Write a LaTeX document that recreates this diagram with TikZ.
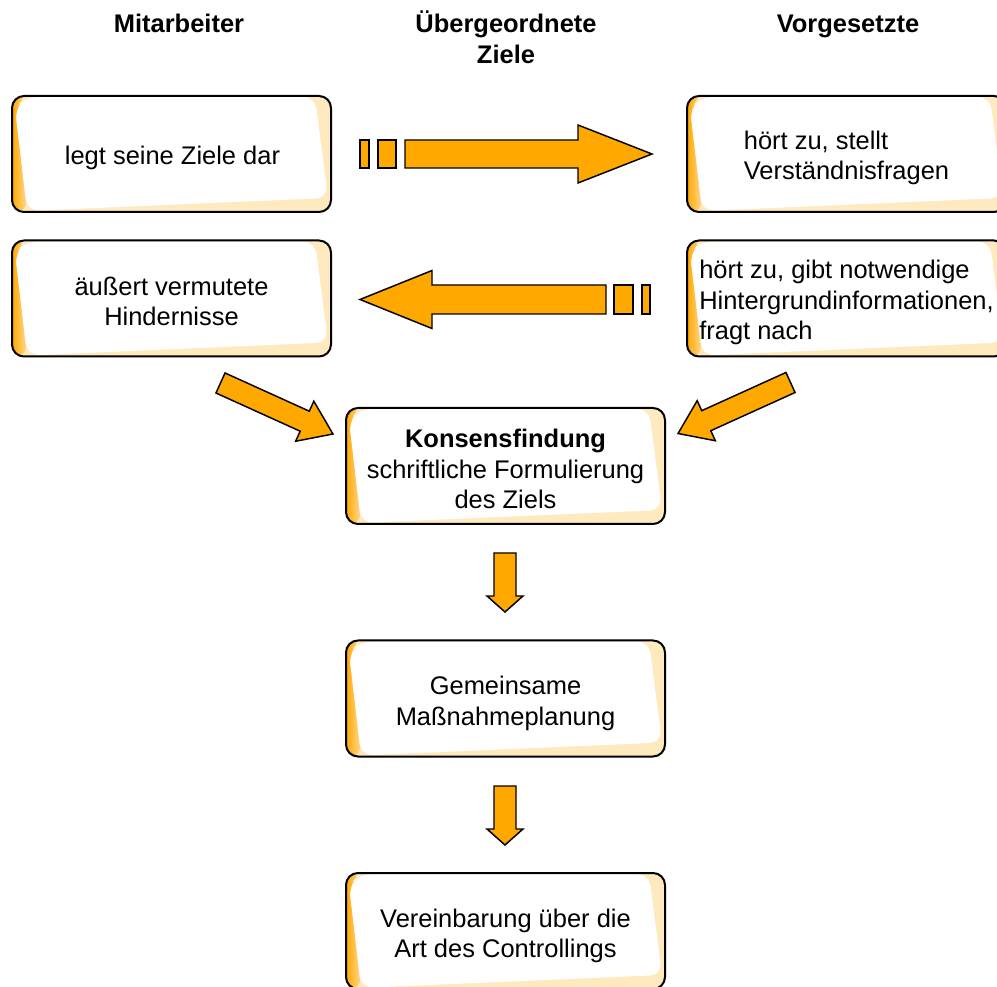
\documentclass[tikz,border=0pt]{standalone}
\usepackage{fontspec}
\setmainfont{Liberation Sans}
\usetikzlibrary{calc}
\definecolor{zorange}{RGB}{255,168,0}
\newcommand\zfont{\fontsize{19.1pt}{22.9pt}\selectfont}
\newcommand\zblock[7]{%
  \begin{scope}[shift={(#1,#2)}, rotate=#3]
    \draw[zarrow] (0,-#6) -- (#4-#5,-#6) -- (#4-#5,-#7) -- (#4,0) -- (#4-#5,#7) -- (#4-#5,#6) -- (0,#6) -- cycle;
  \end{scope}}
\tikzset{
  zbox/.style={draw=black, line width=1.5pt, rounded corners=9pt, fill=white,
    minimum width=319*0.75pt, minimum height=116*0.75pt, inner sep=0pt,
    path picture={
      \coordinate (nw) at (path picture bounding box.north west);
      \coordinate (se) at (path picture bounding box.south east);
      \fill[zorange!25] (nw) rectangle (se);
      \fill[left color=zorange, right color=zorange!40]
        (nw) -- ($(nw)+(16,0)$) -- ($(nw)+(3,12)$) -- ($(nw|-se)+(16,0)$) -- (nw|-se) -- cycle;
      \fill[white] ($(nw)+(3,12)$) -- ($(nw)+(14,1)$) -- ($(se|-nw)+(-16,1)$)
        -- ($(se)+(-3,-14)$) -- ($(nw|-se)+(15,-1)$) -- cycle;
    }},
  ztext/.style={align=center, font=\zfont, inner sep=0pt},
  zarrow/.style={draw=black, line width=1.1pt, fill=zorange, line join=miter},
  zhead/.style={font=\zfont\bfseries, align=center}
}
\begin{document}
\begin{tikzpicture}[x=0.75pt, y=-0.75pt]
  \useasboundingbox (0,0) rectangle (997,987);
  \clip (0,0) rectangle (997,987);

  % headers
  \node[zhead, anchor=base] (hm) at (179,33) {Mitarbeiter};
  \node[zhead] (hz) at (506,37) {Übergeordnete\\Ziele};
  \node[zhead, anchor=base] (hv) at (848,33) {Vorgesetzte};

  % boxes
  \node[zbox] (b1) at (171.5,154) {};
  \node[zbox] (b2) at (846.5,154) {};
  \node[zbox] (b3) at (171.5,298.5) {};
  \node[zbox] (b4) at (846.5,298.5) {};
  \node[zbox] (b5) at (505.5,466) {};
  \node[zbox] (b6) at (505.5,698.5) {};
  \node[zbox] (b7) at (505.5,931) {};

  % box texts
  \node[ztext] (t1) at ($(b1)+(1,4)$) {legt seine Ziele dar};
  \node[ztext, align=left] (t2) at ($(b2)+(0,4)$) {hört zu, stellt\\Verständnisfragen};
  \node[ztext] (t3) at ($(b3)+(0,3)$) {äußert vermutete\\Hindernisse};
  \node[ztext, align=left] (t4) at ($(b4)+(0,4)$) {hört zu, gibt notwendige\\Hintergrundinformationen,\\fragt nach};
  \node[ztext] (t5) at ($(b5)+(0,3)$) {\textbf{Konsensfindung}\\schriftliche Formulierung\\des Ziels};
  \node[ztext] (t6) at ($(b6)+(0,5)$) {Gemeinsame\\Maßnahmeplanung};
  \node[ztext] (t7) at ($(b7)+(0,5)$) {Vereinbarung über die\\Art des Controllings};

  % right arrow with dashes
  \draw[zarrow] (360,140) rectangle (369,168);
  \draw[zarrow] (378,140) rectangle (396,168);
  \zblock{405}{154}{0}{247}{74}{14}{29}

  % left arrow with dashes
  \draw[zarrow] (642,285) rectangle (650,314);
  \draw[zarrow] (614,285) rectangle (633,314);
  \zblock{606}{299.5}{180}{246}{72}{14.5}{29}

  % diagonal arrows
  \zblock{220.5}{383}{-24.4}{123.5}{31}{11}{22}
  \zblock{790.5}{382.5}{204.4}{123.5}{31}{11}{22}

  % down arrows
  \zblock{505}{553}{-90}{59}{16}{11}{18}
  \zblock{505}{786}{-90}{59}{16}{11}{18}
\end{tikzpicture}
\end{document}
